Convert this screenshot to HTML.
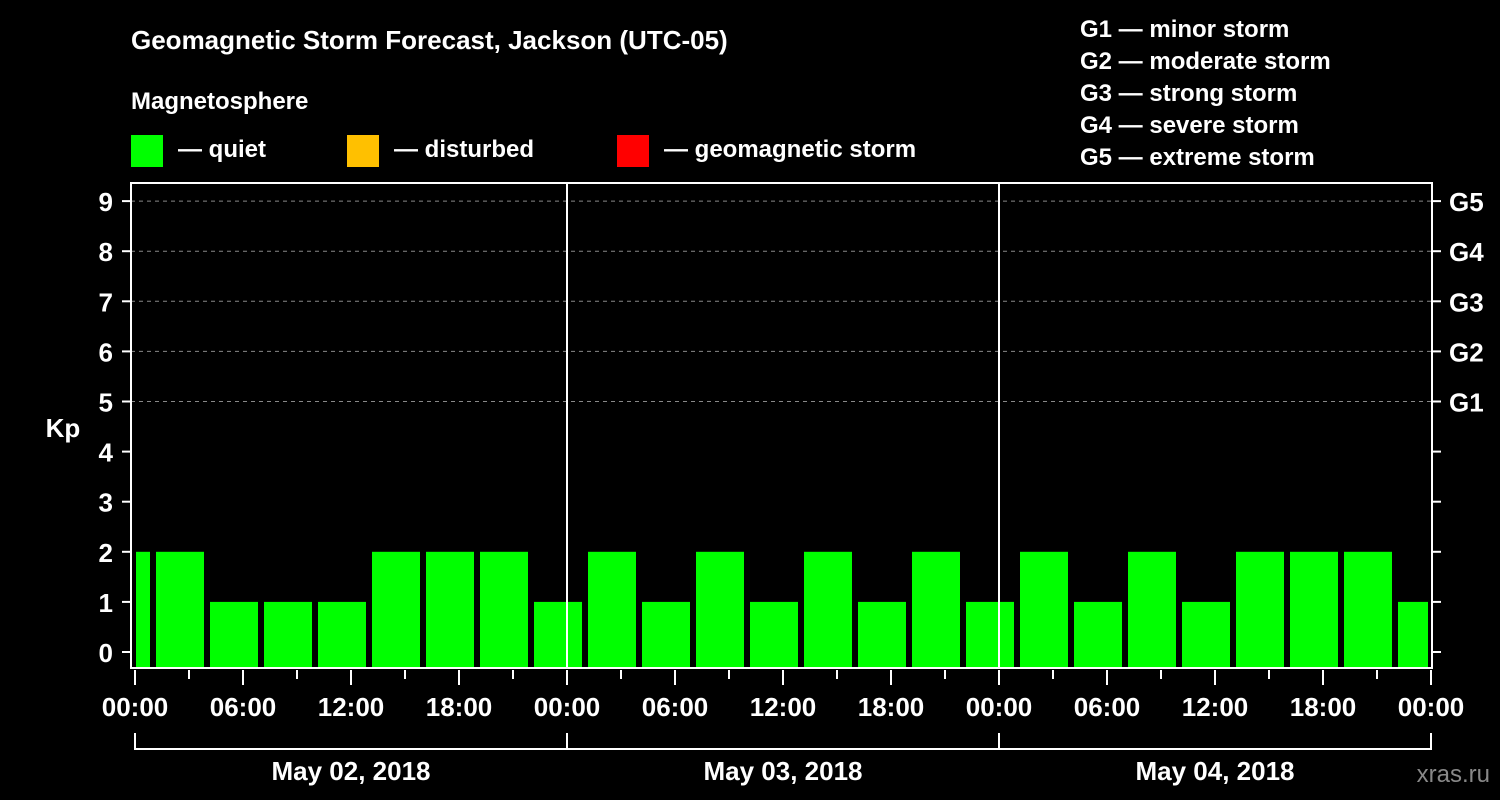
<!DOCTYPE html>
<html><head><meta charset="utf-8"><style>
html,body{margin:0;padding:0;background:#000;}
svg{display:block;font-family:"Liberation Sans",Arial,sans-serif;font-weight:bold;}
</style></head><body>
<svg id="chart" width="1500" height="800" viewBox="0 0 1500 800">
<rect width="1500" height="800" fill="#000"/>
<text x="131" y="49" fill="#fff" font-size="26">Geomagnetic Storm Forecast, Jackson (UTC-05)</text>
<text x="131" y="109" fill="#fff" font-size="24">Magnetosphere</text>
<g><rect x="131" y="135" width="32" height="32" fill="#00ff00"/><text x="178" y="157" fill="#fff" font-size="24">— quiet</text></g>
<g><rect x="347" y="135" width="32" height="32" fill="#ffc000"/><text x="394" y="157" fill="#fff" font-size="24">— disturbed</text></g>
<g><rect x="617" y="135" width="32" height="32" fill="#ff0000"/><text x="664" y="157" fill="#fff" font-size="24">— geomagnetic storm</text></g>
<g fill="#fff" font-size="24">
<text x="1080" y="37">G1 — minor storm</text>
<text x="1080" y="69">G2 — moderate storm</text>
<text x="1080" y="101">G3 — strong storm</text>
<text x="1080" y="133">G4 — severe storm</text>
<text x="1080" y="165">G5 — extreme storm</text>
</g>
<text x="63" y="437" fill="#fff" font-size="26" text-anchor="middle">Kp</text>
<text x="1490" y="782" fill="#888" font-size="24" text-anchor="end" font-weight="normal">xras.ru</text>
<g id="grid"></g><g id="bars"></g><g id="axes"></g>
</svg>
<script>
const kpValues = [2, 2,1,1,1,2,2,2,1, 2,1,2,1,2,1,2,1, 2,1,2,1,2,2,2,1];
const binStartHour = -2;
const yTicks = [0,1,2,3,4,5,6,7,8,9];
const gLabels = ["G1","G2","G3","G4","G5"];
const xTickLabels = ["00:00","06:00","12:00","18:00"];
const dayLabels = ["May 02, 2018","May 03, 2018","May 04, 2018"];
const X0=135, PXH=18, L=131, R=1432, T=183, B=668;
const xs = h => X0 + h*PXH;
const ys = v => 652 - v*50.1;
const NS="http://www.w3.org/2000/svg";
function mk(tag, attrs, parent, text){const e=document.createElementNS(NS,tag);for(const k in attrs)e.setAttribute(k,attrs[k]);if(text!==undefined)e.textContent=text;parent.appendChild(e);return e;}
const grid=document.getElementById('grid'), bars=document.getElementById('bars'), axes=document.getElementById('axes');
// gridlines for G levels
gLabels.forEach((g,i)=>{const v=5+i;
 const ln=mk('line',{x1:L,x2:R,y1:ys(v),y2:ys(v),stroke:'#888','stroke-dasharray':'4,4'},grid);
 
 
 const t=mk('text',{x:1449,y:ys(v)+10,fill:'#fff','font-size':26},axes,g);
 
 
});
// bars
kpValues.forEach((v,i)=>{
 let s=xs(binStartHour+i*3)+3, e=xs(binStartHour+i*3+3)-3;
 s=Math.max(s,X0+1); e=Math.min(e,xs(72)-3);
 const c=v>=5?'#ff0000':(v>=4?'#ffc000':'#00ff00');
 const r=mk('rect',{x:s,y:ys(v),width:e-s,height:B-ys(v),fill:c},bars);
 
 
});
// day separators
[1,2].forEach(d=>{const l=mk('line',{x1:xs(d*24),x2:xs(d*24),y1:T,y2:B,stroke:'#fff','stroke-width':2},axes);
 
 });
// frame
const f=mk('rect',{x:L,y:T,width:R-L,height:B-T,fill:'none',stroke:'#fff','stroke-width':2},axes);


// y ticks
yTicks.forEach(v=>{
 mk('line',{x1:122,x2:L,y1:ys(v),y2:ys(v),stroke:'#fff','stroke-width':2},axes);
 mk('line',{x1:R,x2:1441,y1:ys(v),y2:ys(v),stroke:'#fff','stroke-width':2},axes);
 const t=mk('text',{x:113,y:ys(v)+10,fill:'#fff','font-size':26,'text-anchor':'end'},axes,String(v));
 
 
});
// x ticks
for(let h=0;h<=72;h+=3){
 const major=h%6===0;
 mk('line',{x1:xs(h),x2:xs(h),y1:B+2,y2:major?685:679,stroke:'#fff','stroke-width':2},axes);
 if(major){const t=mk('text',{x:xs(h),y:716,fill:'#fff','font-size':26,'text-anchor':'middle'},axes,h===72?"00:00":xTickLabels[(h%24)/6]);
  
  }
}
// day brackets
mk('line',{x1:xs(0),x2:xs(72),y1:749,y2:749,stroke:'#fff','stroke-width':2},axes);
for(let d=0;d<=3;d++) mk('line',{x1:xs(d*24),x2:xs(d*24),y1:733,y2:750,stroke:'#fff','stroke-width':2},axes);
dayLabels.forEach((lab,d)=>{const t=mk('text',{x:xs(d*24+12),y:780,fill:'#fff','font-size':26,'text-anchor':'middle'},axes,lab);
 
 });
</script>
</body></html>
